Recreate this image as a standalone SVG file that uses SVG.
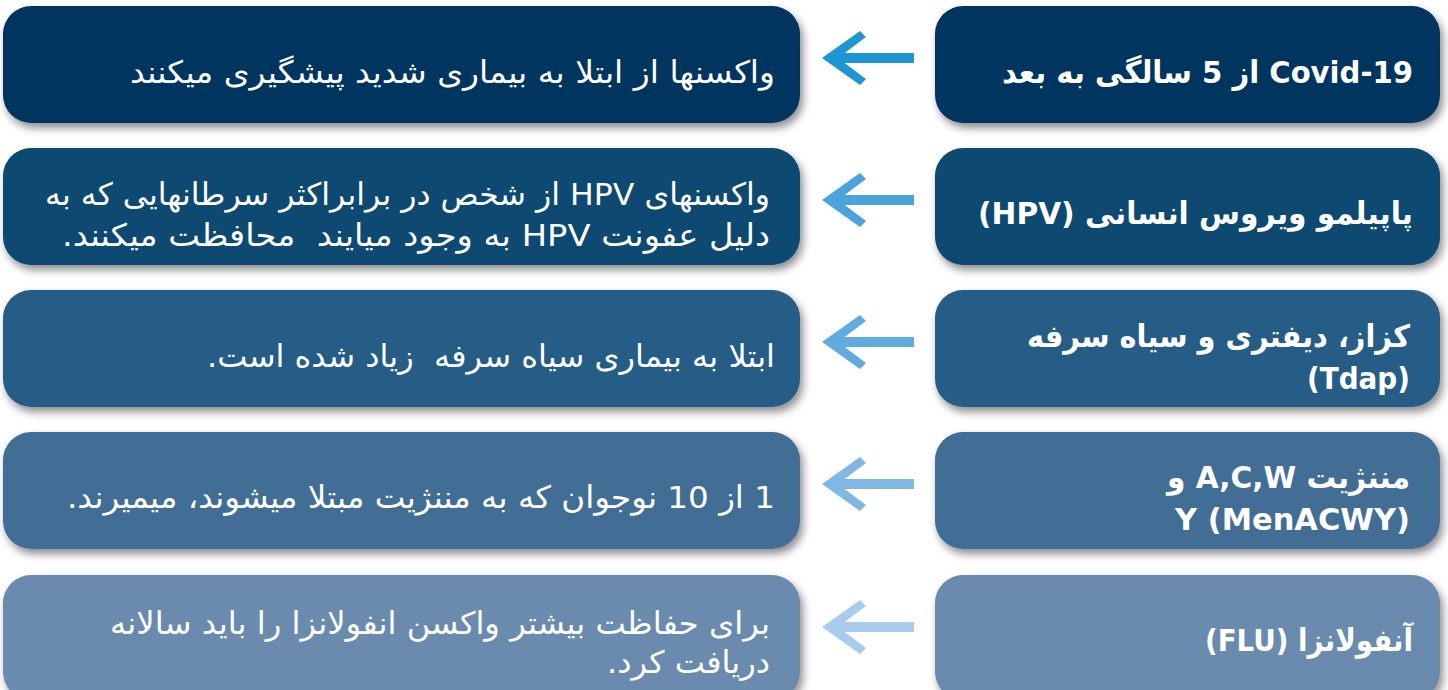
<svg xmlns="http://www.w3.org/2000/svg" width="1448" height="690" viewBox="0 0 1448 690">
<defs>
<filter id="sh" x="-5%" y="-20%" width="112%" height="150%">
<feDropShadow dx="3" dy="5" stdDeviation="4" flood-color="#000" flood-opacity="0.45"/>
</filter>
<path id="arr" d="M0,0 L38,-27 L44,-21 L16,0 L44,21 L38,27 Z M10,-5 L92,-5 L92,5 L10,5 Z"/>
</defs>
<style>
.box{filter:url(#sh)}
.lt{font-family:"DejaVu Sans","Noto Sans",sans-serif;font-size:31px;fill:#fff;direction:rtl;text-anchor:start;white-space:pre}
.rt{font-family:"DejaVu Sans","Noto Sans",sans-serif;font-size:31px;font-weight:bold;fill:#fff;direction:rtl;text-anchor:start;white-space:pre}
.ltr{direction:ltr;text-anchor:end}
</style>
<rect width="1448" height="690" fill="#fff"/>
<g id="connectors">
<use href="#arr" x="822" y="58" fill="#1e96d4"/>
<use href="#arr" x="822" y="200" fill="#4aa3da"/>
<use href="#arr" x="822" y="342" fill="#62abdf"/>
<use href="#arr" x="822" y="484" fill="#80b7e4"/>
<use href="#arr" x="822" y="627" fill="#a9cbec"/>
</g>
<g id="row1-desc"><rect class="box" x="3" y="6" width="797" height="117" rx="28" fill="#003561"/>
<text class="lt" x="775" y="83" textLength="645" lengthAdjust="spacingAndGlyphs">واکسنها از ابتلا به بیماری شدید پیشگیری میکنند</text></g>
<g id="row1-vaccine"><rect class="box" x="935" y="6" width="505" height="117" rx="28" fill="#003561"/>
<text class="rt" x="1413" y="83" textLength="411" lengthAdjust="spacingAndGlyphs">Covid-19 از 5 سالگی به بعد</text></g>
<g id="row2-desc"><rect class="box" x="3" y="148" width="797" height="117" rx="28" fill="#08486f"/>
<text class="lt" x="770" y="205" textLength="725" lengthAdjust="spacingAndGlyphs">واکسنهای HPV از شخص در برابراکثر سرطانهایی که به</text>
<text class="lt" x="770" y="246" textLength="708" lengthAdjust="spacingAndGlyphs">دلیل عفونت HPV به وجود میایند  محافظت میکنند.</text></g>
<g id="row2-vaccine"><rect class="box" x="935" y="148" width="505" height="117" rx="28" fill="#08486f"/>
<text class="rt" x="1413" y="224" textLength="435" lengthAdjust="spacingAndGlyphs">پاپیلمو ویروس انسانی (HPV)</text></g>
<g id="row3-desc"><rect class="box" x="3" y="290" width="797" height="117" rx="28" fill="#255d86"/>
<text class="lt" x="775" y="367" textLength="568" lengthAdjust="spacingAndGlyphs">ابتلا به بیماری سیاه سرفه  زیاد شده است.</text></g>
<g id="row3-vaccine"><rect class="box" x="935" y="290" width="505" height="117" rx="28" fill="#255d86"/>
<text class="rt" x="1410" y="347" textLength="383" lengthAdjust="spacingAndGlyphs">کزاز، دیفتری و سیاه سرفه</text>
<text class="rt ltr" x="1410" y="389" textLength="103" lengthAdjust="spacingAndGlyphs">(Tdap)</text></g>
<g id="row4-desc"><rect class="box" x="3" y="432" width="797" height="117" rx="28" fill="#426e96"/>
<text class="lt" x="775" y="508" textLength="708" lengthAdjust="spacingAndGlyphs">1 از 10 نوجوان که به مننژیت مبتلا میشوند، میمیرند.</text></g>
<g id="row4-vaccine"><rect class="box" x="935" y="432" width="505" height="117" rx="28" fill="#426e96"/>
<text class="rt" x="1410" y="488" textLength="243" lengthAdjust="spacingAndGlyphs">مننژیت A,C,W و</text>
<text class="rt ltr" x="1410" y="530" textLength="235" lengthAdjust="spacingAndGlyphs">Y (MenACWY)</text></g>
<g id="row5-desc"><rect class="box" x="3" y="575" width="797" height="125" rx="28" fill="#6a8bae"/>
<text class="lt" x="770" y="634" textLength="660" lengthAdjust="spacingAndGlyphs">برای حفاظت بیشتر واکسن انفولانزا را باید سالانه</text>
<text class="lt" x="770" y="673" textLength="163" lengthAdjust="spacingAndGlyphs">دریافت کرد.</text></g>
<g id="row5-vaccine"><rect class="box" x="935" y="575" width="505" height="125" rx="28" fill="#6a8bae"/>
<text class="rt" x="1413" y="651" textLength="208" lengthAdjust="spacingAndGlyphs">آنفولانزا (FLU)</text></g>
</svg>
